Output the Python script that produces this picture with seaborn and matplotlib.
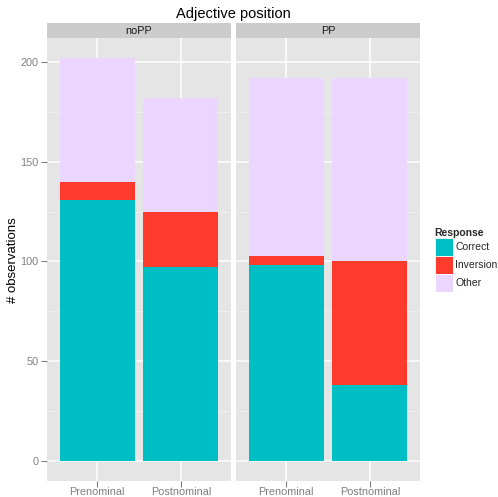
import numpy as np
import pandas as pd
import matplotlib
matplotlib.use('Agg')
import matplotlib.pyplot as plt
import seaborn as sns
from matplotlib.patches import Patch

facets = ['noPP', 'PP']
positions = ['Prenominal', 'Postnominal']
responses = ['Correct', 'Inversion', 'Other']
facet_col = ['noPP', 'noPP', 'PP', 'PP']
position_col = ['Prenominal', 'Postnominal', 'Prenominal', 'Postnominal']
correct = [131, 97, 98, 38]
inversion = [9, 28, 5, 62]
other = [62, 57, 89, 92]
colors = ['#00BFC4', '#FF3B2E', '#EBD6FF']

df = pd.DataFrame({'Facet': facet_col, 'Position': position_col,
                   'Correct': correct, 'Inversion': inversion, 'Other': other})
df['c1'] = df['Correct']
df['c2'] = df['Correct'] + df['Inversion']
df['c3'] = df['c2'] + df['Other']

sns.set_theme(style='white')
plt.rcParams['font.family'] = ['Liberation Sans', 'DejaVu Sans']

W, H = 498, 497
fig = plt.figure(figsize=(W / 100, H / 100), dpi=100)

panel_lr = [(47, 231), (236, 420)]
ptop, pbot = 38, 481
strip_h = 15
grey50 = '#7F7F7F'

ymax = df['c3'].max()
ylim = (-0.05 * ymax, ymax * 1.05)

for i, (facet, (l, r)) in enumerate(zip(facets, panel_lr)):
    ax = fig.add_axes([l / W, 1 - pbot / H, (r - l) / W, (pbot - ptop) / H])
    ax.set_facecolor('#E5E5E5')
    sub = df[df['Facet'] == facet]
    for col, c in zip(['c3', 'c2', 'c1'], colors[::-1]):
        sns.barplot(data=sub, x='Position', y=col, order=positions, color=c,
                    saturation=1, width=0.9, errorbar=None, ax=ax,
                    edgecolor='none', linewidth=0)
    ax.set_xlim(-0.6, 1.6)
    ax.set_ylim(*ylim)
    ax.set_axisbelow(True)
    ax.set_yticks([0, 50, 100, 150, 200])
    ax.set_yticks([25, 75, 125, 175], minor=True)
    ax.grid(True, which='major', axis='both', color='white', linewidth=1.1)
    ax.grid(True, which='minor', axis='y', color='#F2F2F2', linewidth=0.5)
    for s in ax.spines.values():
        s.set_visible(False)
    ax.set_xlabel('')
    ax.set_ylabel('')
    ax.tick_params(axis='both', which='major', colors=grey50, labelcolor=grey50,
                   labelsize=7.8, length=4, width=0.8, pad=2, bottom=True, left=True)
    ax.tick_params(axis='x', which='major', pad=0.6)
    ax.tick_params(axis='y', which='minor', length=0)
    if i == 1:
        ax.tick_params(axis='y', left=False, labelleft=False)
    # strip
    sax = fig.add_axes([l / W, 1 - ptop / H, (r - l) / W, strip_h / H])
    sax.set_facecolor('#CCCCCC')
    sax.set_xticks([])
    sax.set_yticks([])
    for s in sax.spines.values():
        s.set_visible(False)
    sax.text(0.5, 0.5, facet, ha='center', va='center', fontsize=7.8,
             color='#1A1A1A', transform=sax.transAxes)

fig.text((47 + 420) / 2 / W, 1 - 14 / H, 'Adjective position', ha='center',
         va='center', fontsize=10.5, color='black')
fig.text(13 / W, 1 - 260 / H, '# observations', rotation=90,
         ha='center', va='center', fontsize=9.5, color='black')

handles = [Patch(facecolor=c, edgecolor='white', linewidth=0.6, label=r)
           for c, r in zip(colors, responses)]
leg = fig.legend(handles=handles, title='Response', loc='center left',
                 bbox_to_anchor=(434.5 / W, 1 - 260 / H), frameon=False,
                 fontsize=7.5, title_fontsize=7.5, handlelength=1.73, handleheight=2.28,
                 labelspacing=0, handletextpad=0.25, borderaxespad=0, borderpad=0)
leg.get_title().set_fontweight('bold')
leg._legend_box.align = 'left'

fig.savefig('out.png', dpi=100)
